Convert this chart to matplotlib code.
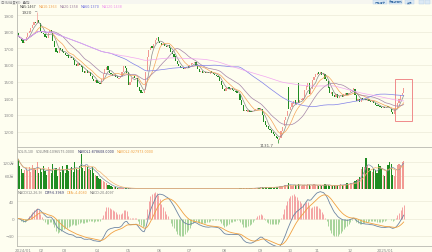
import numpy as np
import pandas as pd
import matplotlib.pyplot as plt
from matplotlib.patches import Rectangle

plt.rcParams['font.family'] = ['DejaVu Sans', 'Noto Sans CJK SC']

# daily candles (2024/01 .. 2025/01)
close = [
    1775, 1760, 1745, 1735, 1740, 1770, 1790, 1805, 1825, 1840,
    1860, 1855, 1870, 1850, 1805, 1790, 1785, 1770, 1765, 1790,
    1810, 1795, 1745, 1710, 1680, 1670, 1695, 1690, 1680, 1670,
    1660, 1655, 1645, 1650, 1640, 1630, 1600, 1595, 1610, 1600,
    1590, 1560, 1555, 1565, 1555, 1560, 1535, 1515, 1505, 1510,
    1495, 1490, 1485, 1515, 1545, 1575, 1590, 1570, 1550, 1545,
    1535, 1540, 1530, 1520, 1525, 1535, 1560, 1595, 1580, 1555,
    1480, 1500, 1525, 1530, 1520, 1525, 1470, 1445, 1435, 1430,
    1445, 1560, 1650, 1690, 1710, 1705, 1725, 1750, 1765, 1745,
    1730, 1720, 1725, 1715, 1710, 1720, 1700, 1680, 1665, 1650,
    1625, 1605, 1595, 1585, 1580, 1575, 1585, 1590, 1582, 1600,
    1610, 1615, 1620, 1595, 1575, 1560, 1565, 1555, 1558, 1552,
    1556, 1550, 1560, 1553, 1545, 1540, 1535, 1530, 1505, 1480,
    1455, 1445, 1460, 1465, 1455, 1462, 1450, 1445, 1440, 1432,
    1430, 1390, 1360, 1325, 1330, 1322, 1328, 1320, 1318, 1325,
    1330, 1338, 1342, 1335, 1340, 1300, 1260, 1238, 1230, 1215,
    1210, 1195, 1185, 1175, 1165, 1155, 1160, 1205, 1230, 1268,
    1290, 1325, 1335, 1350, 1372, 1385, 1365, 1380, 1370, 1390,
    1395, 1405, 1450, 1475, 1490, 1425, 1455, 1510, 1530, 1545,
    1555, 1548, 1560, 1540, 1550, 1515, 1505, 1465, 1430, 1440,
    1415, 1410, 1425, 1405, 1415, 1420, 1410, 1425, 1430, 1420,
    1435, 1445, 1450, 1460, 1420, 1385, 1395, 1380, 1400, 1390,
    1395, 1388, 1392, 1385, 1378, 1382, 1370, 1360, 1355, 1352,
    1348, 1345, 1350, 1342, 1350, 1346, 1340, 1318, 1308, 1335,
    1345, 1375, 1395, 1420, 1435, 1462,
]
open_ = [
    1795, 1775, 1760, 1750, 1730, 1745, 1770, 1790, 1800, 1825,
    1840, 1860, 1850, 1870, 1850, 1805, 1795, 1785, 1775, 1765,
    1790, 1810, 1795, 1745, 1705, 1685, 1670, 1700, 1695, 1685,
    1672, 1660, 1660, 1640, 1650, 1645, 1630, 1605, 1595, 1612,
    1600, 1592, 1565, 1553, 1568, 1552, 1560, 1535, 1518, 1500,
    1512, 1498, 1494, 1485, 1512, 1545, 1572, 1592, 1570, 1552,
    1546, 1532, 1542, 1532, 1518, 1522, 1535, 1560, 1596, 1580,
    1556, 1478, 1500, 1524, 1532, 1518, 1522, 1470, 1448, 1440,
    1432, 1450, 1565, 1650, 1690, 1712, 1703, 1725, 1748, 1768,
    1745, 1732, 1718, 1726, 1716, 1708, 1722, 1700, 1682, 1668,
    1652, 1627, 1606, 1596, 1588, 1582, 1574, 1584, 1592, 1582,
    1598, 1608, 1612, 1620, 1596, 1578, 1558, 1566, 1552, 1560,
    1550, 1558, 1548, 1562, 1554, 1546, 1541, 1537, 1530, 1506,
    1478, 1456, 1446, 1458, 1466, 1452, 1463, 1452, 1446, 1442,
    1434, 1428, 1392, 1360, 1322, 1332, 1320, 1330, 1322, 1316,
    1324, 1328, 1336, 1343, 1333, 1338, 1300, 1262, 1240, 1232,
    1218, 1210, 1197, 1187, 1177, 1168, 1150, 1162, 1206, 1232,
    1268, 1292, 1470, 1330, 1348, 1368, 1388, 1362, 1495, 1372,
    1388, 1392, 1405, 1448, 1470, 1492, 1428, 1458, 1508, 1528,
    1542, 1556, 1546, 1560, 1538, 1548, 1518, 1505, 1468, 1428,
    1438, 1418, 1408, 1426, 1402, 1412, 1422, 1408, 1422, 1432,
    1418, 1436, 1442, 1448, 1458, 1420, 1384, 1396, 1378, 1402,
    1388, 1396, 1386, 1394, 1386, 1376, 1384, 1372, 1362, 1358,
    1354, 1350, 1343, 1351, 1340, 1352, 1348, 1338, 1320, 1305,
    1332, 1342, 1372, 1392, 1418, 1432,
]
# volume in 万
volume = [
    135, 105, 90, 70, 85, 95, 80, 100, 75, 110,
    95, 85, 120, 70, 90, 75, 105, 80, 65, 100,
    90, 70, 115, 85, 95, 60, 100, 75, 105, 85,
    70, 110, 80, 95, 100, 75, 120, 90, 85, 105,
    160, 95, 80, 110, 100, 90, 85, 100, 70, 65,
    60, 50, 45, 40, 35, 30, 25, 20, 16, 12,
    10, 8, 7, 6, 5, 5, 4, 4, 3, 3,
    3, 3, 2, 2, 2, 2, 2, 2, 2, 2,
    2, 1.5, 2, 2, 1.5, 2, 1.5, 1.5, 2, 1.5,
    1.5, 2, 1.5, 1.5, 1.5, 2, 1.5, 1.5, 1.5, 1.5,
    1.5, 1.5, 2, 1.5, 1.5, 1.5, 1.5, 2, 1.5, 1.5,
    1.5, 1.5, 1.5, 2, 1.5, 1.5, 1.5, 1.5, 1.5, 2,
    1.5, 1.5, 1.5, 1.5, 2, 1.5, 1.5, 1.5, 1.5, 1.5,
    2, 1.5, 1.5, 1.5, 2, 1.5, 2, 2, 2, 2,
    2, 3, 3, 3, 2.5, 3, 2.5, 3, 3, 3,
    4, 5, 6, 5, 7, 8, 6, 7, 9, 6,
    7, 8, 6, 9, 10, 8, 12, 15, 14, 18,
    16, 20, 25, 18, 14, 16, 20, 15, 22, 18,
    14, 17, 20, 16, 22, 19, 15, 18, 21, 17,
    16, 14, 18, 15, 20, 22, 18, 16, 14, 12,
    15, 18, 14, 16, 20, 22, 17, 19, 24, 26,
    22, 25, 28, 30, 35, 40, 45, 55, 90, 100,
    100, 140, 110, 95, 80, 75, 90, 85, 70, 115,
    105, 95, 65, 60, 80, 110, 120, 115, 65, 60,
    85, 110, 115, 110, 120, 125,
]

peak_idx, peak_high = 12, 1920
low_idx, low_val = 165, 1131.7
box_idx = (239.6, 250.4)
box_price = (1265, 1515)

month_labels = ['2024/01', '02', '03', '04', '05', '06', '07', '08', '09',
                '10', '11', '12', '2025/01']
month_pos = [3, 15, 29, 50, 70, 90, 109, 131, 154, 173, 190, 211, 233]
price_ticks = [1200, 1300, 1400, 1500, 1600, 1700, 1800, 1900]
vol_ticks = [60, 120]
macd_ticks = [-40, 0, 40]

ma_info = ['MA5:1467', 'MA10:1363', 'MA20:1358', 'MA60:1370', 'MA120:1438']
vol_info = ['VOL(5,10)', 'VOLUME:1096575.0000', 'MAVOL1:878608.0000',
            'MAVOL2:927973.0000']
macd_info = ['MACD(12,26,9)', 'DIFF:6.3969', 'DEA:-4.4080', 'MACD:20.4097']

W, H = 432, 253
BG = '#fefef0'
GRID = '#efeedc'
UP, DOWN = '#f29a93', '#1f8c22'
TXT = '#8c8c8c'

c = pd.Series(close, dtype=float)
o = pd.Series(open_, dtype=float)
v = pd.Series(volume, dtype=float)
x = np.arange(len(c))
up = (c >= o).values

fig = plt.figure(figsize=(W / 100, H / 100), dpi=100, facecolor=BG)
renderer = fig.canvas.get_renderer()


def px_axes(x0, y0, x1, y1):
    ax = fig.add_axes([x0 / W, 1 - y1 / H, (x1 - x0) / W, (y1 - y0) / H])
    ax.set_facecolor(BG)
    for s in ['top', 'right']:
        ax.spines[s].set_visible(False)
    for s in ['left', 'bottom']:
        ax.spines[s].set_color('#b8b8b0')
        ax.spines[s].set_linewidth(0.6)
    ax.set_xlim(-0.8, 263)
    ax.set_xticks([])
    ax.tick_params(axis='y', length=0, labelsize=3, labelcolor=TXT, pad=2)
    return ax


def header(texts, colors, x0, y, size=2.3, gap=2.0):
    # lay the texts out one after the other, measuring each
    xp = x0
    for t, col in zip(texts, colors):
        tt = fig.text(xp / W, 1 - y / H, t, fontsize=size, color=col, va='center')
        xp += tt.get_window_extent(renderer).width + gap


# top strip
fig.patches.append(Rectangle((0, 1 - 5 / H), 1, 5 / H, transform=fig.transFigure,
                             facecolor='#f6f6f0', edgecolor='none'))
fig.text(1 / W, 1 - 2.5 / H, '日线(前复权)  叠加', fontsize=2.4, color='#777777', va='center')
for lbl, x0, x1 in [('风险提示', 373, 387), ('多周期同列', 389, 402), ('关闭', 405, 414)]:
    fig.patches.append(Rectangle((x0 / W, 1 - 5 / H), (x1 - x0) / W, 4 / H,
                                 transform=fig.transFigure, facecolor='#dce9f5',
                                 edgecolor='#b5cde6', linewidth=0.3))
    fig.text((x0 + x1) / 2 / W, 1 - 3 / H, lbl, fontsize=2.0, color='#3a6ea5',
             ha='center', va='center')
for x0 in [419, 425]:
    fig.patches.append(Rectangle((x0 / W, 1 - 5 / H), 5 / W, 4 / H,
                                 transform=fig.transFigure, facecolor='#dce9f5',
                                 edgecolor='#b5cde6', linewidth=0.3))

# ---- price panel
ax = px_axes(17, 5, 432, 148)
ax.set_ylim(1108, 1966)
ax.set_yticks(price_ticks)
ax.grid(axis='y', color=GRID, linewidth=0.6)
ax.set_axisbelow(True)

body_lo = np.minimum(c, o)
body_h = np.maximum(np.abs(c - o), 3)
ax.bar(x, body_h, bottom=body_lo, width=0.75, color=np.where(up, UP, DOWN),
       linewidth=0)
ax.vlines(peak_idx, max(c[peak_idx], o[peak_idx]), peak_high, color=UP, lw=0.5)
ax.vlines(low_idx, low_val, min(c[low_idx], o[low_idx]), color=DOWN, lw=0.5)

ma_colors = ['#8a8a8a', '#f5a55a', '#a585a8', '#8080e8', '#f2a6f0']
for n, col in zip([5, 10, 20, 60, 120], ma_colors):
    ax.plot(x, c.rolling(n, min_periods=1).mean(), color=col, lw=0.5)

ax.annotate(f'{peak_high:.0f}', xy=(peak_idx, peak_high), xytext=(peak_idx - 3, peak_high),
            fontsize=3, color='#555555', va='center', ha='right',
            arrowprops=dict(arrowstyle='-', color='#777777', lw=0.4))
ax.text(low_idx - 3, low_val - 14, f'{low_val:.1f}', fontsize=3, color='#555555',
        ha='right', va='center')
ax.add_patch(Rectangle((box_idx[0], box_price[0]), box_idx[1] - box_idx[0],
                       box_price[1] - box_price[0], fill=False,
                       edgecolor='#f08a8a', linewidth=0.7))

header(ma_info, ['#444444', '#f0a050', '#9a7a9e', '#6a6ae0', '#ee90ee'], 20, 7.5)

# ---- volume panel
axv = px_axes(17, 149, 432, 190)
axv.set_ylim(0, 185)
axv.set_yticks(vol_ticks)
axv.set_yticklabels([f'{t}万' for t in vol_ticks])
axv.grid(axis='y', color=GRID, linewidth=0.6)
axv.set_axisbelow(True)
axv.bar(x, v, width=0.75, color=np.where(up, UP, DOWN), linewidth=0)
axv.plot(x, v.rolling(5, min_periods=1).mean(), color='#7f8fa6', lw=0.5)
axv.plot(x, v.rolling(10, min_periods=1).mean(), color='#f0b070', lw=0.5)
header(vol_info, ['#777777', '#777777', '#333366', '#f0a040'], 18, 152.5)

# ---- MACD panel
axm = px_axes(17, 190, 432, 247)
ema12 = c.ewm(span=12, adjust=False).mean()
ema26 = c.ewm(span=26, adjust=False).mean()
dif = ema12 - ema26
dea = dif.ewm(span=9, adjust=False).mean()
macd = 2 * (dif - dea)
axm.set_ylim(-64, 69)
axm.set_yticks(macd_ticks)
axm.grid(axis='y', color=GRID, linewidth=0.6)
axm.set_axisbelow(True)
axm.vlines(x, 0, macd, colors=np.where(macd >= 0, '#f4a3a3', '#a6d39a'), lw=0.7)
axm.plot(x, dif, color='#6f86a3', lw=0.6)
axm.plot(x, dea, color='#f0a040', lw=0.6)
header(macd_info, ['#777777', '#333366', '#f0a040', '#777777'], 18, 193)

axm.set_xticks(month_pos)
axm.set_xticklabels(month_labels)
axm.tick_params(axis='x', length=0, labelsize=3, labelcolor=TXT, pad=1.5)

fig.savefig('out.png', dpi=100, facecolor=BG)
